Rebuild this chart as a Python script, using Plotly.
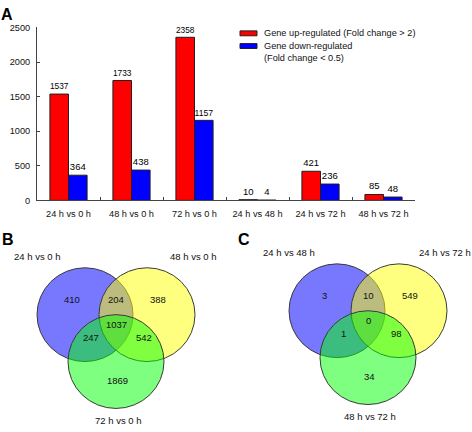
import plotly.graph_objects as go

# ---------------- data ----------------
categories = ["24 h vs 0 h", "48 h vs 0 h", "72 h vs 0 h",
              "24 h vs 48 h", "24 h vs 72 h", "48 h vs 72 h"]
up_regulated = [1537, 1733, 2358, 10, 421, 85]
down_regulated = [364, 438, 1157, 4, 236, 48]
y_ticks = [0, 500, 1000, 1500, 2000, 2500]

legend_up = "Gene up-regulated (Fold change > 2)"
legend_down = ["Gene down-regulated", "(Fold change < 0.5)"]

venn_b_sets = ["24 h vs 0 h", "48 h vs 0 h", "72 h vs 0 h"]
# order: only1, only2, only3, 1&2, 1&3, 2&3, all
venn_b_counts = [410, 388, 1869, 204, 247, 542, 1037]

venn_c_sets = ["24 h vs 48 h", "24 h vs 72 h", "48 h vs 72 h"]
venn_c_counts = [3, 549, 34, 10, 1, 98, 0]

# ---------------- layout helpers ----------------
W, H = 472, 432
FONT = "Liberation Sans, Arial, sans-serif"


def px(x):
    return x / W


def py(y):
    return 1 - y / H


fig = go.Figure()

fig.add_trace(go.Bar(
    x=categories, y=up_regulated, name=legend_up,
    marker=dict(color="#ff0000", line=dict(color="#202020", width=1)),
    text=up_regulated, textposition="outside",
    textfont=dict(size=9.5, color="black", family=FONT),
    cliponaxis=False, showlegend=False,
))
fig.add_trace(go.Bar(
    x=categories, y=down_regulated, name=" ".join(legend_down),
    marker=dict(color="#0000ff", line=dict(color="#202020", width=1)),
    text=down_regulated, textposition="outside",
    textfont=dict(size=9.5, color="black", family=FONT),
    cliponaxis=False, showlegend=False,
))

shapes = []
annotations = []

# custom legend
shapes.append(dict(type="rect", xref="paper", yref="paper",
                   x0=px(240), x1=px(257), y0=py(31.5), y1=py(26.5),
                   fillcolor="#ff0000", line=dict(color="#202020", width=1)))
shapes.append(dict(type="rect", xref="paper", yref="paper",
                   x0=px(240), x1=px(257), y0=py(44.5), y1=py(39.5),
                   fillcolor="#0000ff", line=dict(color="#202020", width=1)))
annotations.append(dict(xref="paper", yref="paper", x=px(262), y=py(29),
                        text=legend_up, showarrow=False, xanchor="left",
                        yanchor="middle", font=dict(size=9.2, family=FONT, color="#111")))
annotations.append(dict(xref="paper", yref="paper", x=px(262), y=py(42),
                        text=legend_down[0], showarrow=False, xanchor="left",
                        yanchor="middle", font=dict(size=9.2, family=FONT, color="#111")))
annotations.append(dict(xref="paper", yref="paper", x=px(262), y=py(54),
                        text=legend_down[1], showarrow=False, xanchor="left",
                        yanchor="middle", font=dict(size=9.2, family=FONT, color="#111")))

# panel letters
for letter, (lx, ly) in zip(["A", "B", "C"], [(7, 10), (8, 240), (244, 240)]):
    annotations.append(dict(xref="paper", yref="paper", x=px(lx), y=py(ly),
                            text=f"<b>{letter}</b>", showarrow=False,
                            xanchor="center", yanchor="middle",
                            font=dict(size=16, family=FONT, color="black")))

# Venn diagrams (drawn on a pixel-scaled overlay axis)
R = 48
circle_offsets = [(-31, -16), (31, -16), (0, 32)]
circle_fills = ["rgba(0,0,255,0.53)", "rgba(255,255,0,0.5)", "rgba(0,255,0,0.5)"]
region_offsets = [(-44, -32), (42, -32), (1, 51), (0, -32), (-25, 7), (28, 7), (0, -6)]
set_label_offsets = [(-79, -76), (77, -76), (2, 92)]


def add_venn(origin, sets, counts):
    ox, oy = origin
    for (dx, dy), fill in zip(circle_offsets, circle_fills):
        cx, cy = ox + dx, oy + dy
        shapes.append(dict(type="circle", xref="x2", yref="y2",
                           x0=cx - R, x1=cx + R, y0=cy - R, y1=cy + R,
                           fillcolor=fill, line=dict(color="#3a3a3a", width=1)))
    for (dx, dy), c in zip(region_offsets, counts):
        annotations.append(dict(xref="x2", yref="y2", x=ox + dx, y=oy + dy,
                                text=str(c), showarrow=False,
                                font=dict(size=9.5, family=FONT, color="#111")))
    for (dx, dy), s in zip(set_label_offsets, sets):
        annotations.append(dict(xref="x2", yref="y2", x=ox + dx, y=oy + dy,
                                text=s, showarrow=False,
                                font=dict(size=9.5, family=FONT, color="#111")))


add_venn((116, 333), venn_b_sets, venn_b_counts)
add_venn((368, 329), venn_c_sets, venn_c_counts)

# invisible trace to activate the overlay axes
fig.add_trace(go.Scatter(x=[0], y=[0], xaxis="x2", yaxis="y2", mode="markers",
                         marker=dict(opacity=0), showlegend=False, hoverinfo="skip"))

axis_color = "#444"
fig.update_layout(
    width=W, height=H,
    margin=dict(l=0, r=0, t=0, b=0),
    paper_bgcolor="white", plot_bgcolor="rgba(0,0,0,0)",
    barmode="group", bargap=0.41, bargroupgap=0,
    font=dict(family=FONT, size=9, color="#111"),
    showlegend=False,
    xaxis=dict(domain=[px(37), px(415)], type="category",
               range=[-0.5, 5.5], showline=True, linecolor=axis_color,
               linewidth=1, ticks="inside", ticklen=3, tickcolor=axis_color,
               tickson="boundaries", showgrid=False, zeroline=False,
               tickfont=dict(size=9.2, family=FONT, color="#111"),
               ticklabelstandoff=5, anchor="y"),
    yaxis=dict(domain=[py(200), py(23)], range=[0, 2500],
               tickvals=y_ticks, showline=True, linecolor=axis_color,
               linewidth=1, ticks="inside", ticklen=3, tickcolor=axis_color,
               showgrid=False, zeroline=False,
               tickfont=dict(size=9.2, family=FONT, color="#111"),
               ticklabelstandoff=4, anchor="x"),
    xaxis2=dict(domain=[0, 1], range=[0, W], visible=False,
                anchor="y2", fixedrange=True),
    yaxis2=dict(domain=[0, 1], range=[H, 0], visible=False, anchor="x2",
                fixedrange=True),
    shapes=shapes,
    annotations=annotations,
)

fig.write_html("out.html",
               config={"displayModeBar": False, "staticPlot": True},
               post_script="document.body.style.margin='0';document.body.style.overflow='hidden';")
